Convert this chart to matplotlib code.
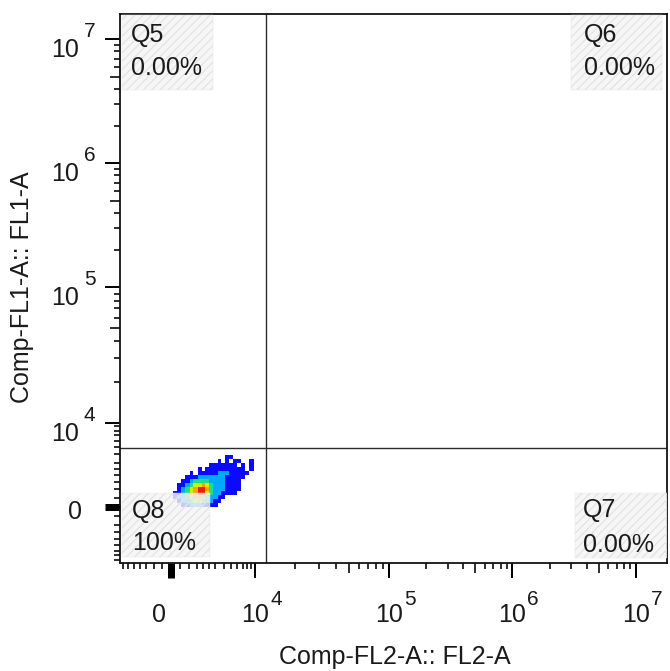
import numpy as np
import matplotlib
matplotlib.use("Agg")
import matplotlib.pyplot as plt
from matplotlib.colors import ListedColormap
from matplotlib.patches import Rectangle
from matplotlib.ticker import FixedLocator, NullFormatter

plt.rcParams["font.family"] = ["Liberation Sans", "DejaVu Sans"]

# --- data ---------------------------------------------------------------
# density of events (0 = empty, 1 = blue ... 6 = red), top row first
fl2_edges = [110, 330, 560, 790, 1040, 1290, 1570, 1860, 2170, 2510, 2880, 3290,
             3730, 4210, 4750, 5350, 6010, 6740, 7550, 8450, 9560, 10420, 11160]
fl1_edges = [0, 220, 450, 680, 910, 1160, 1430, 1710, 2010, 2340, 2690, 3070, 3490, 3940]
density_rows = [
    ".............11.......",
    "...........1.1.11..1..",
    ".........1111111.1.1..",
    "......1.1111111111.1..",
    "....1.1111122211111...",
    "...111222222211111....",
    "..112333322221111.....",
    ".1123445432221111.....",
    ".1234566532221111.....",
    "1123456643221111......",
    "1223455432211.........",
    ".12234432211..........",
    "..112221111...........",
]
level_colors = ["#0a0aff", "#00a8ff", "#22dd88", "#d2f000", "#ffa000", "#ee2000"]

gate_fl2 = 1.2e4
gate_fl1 = 4900
quad_names = ["Q5", "Q6", "Q7", "Q8"]
quad_pct = ["0.00%", "0.00%", "0.00%", "100%"]

major_ticks = [0, 1e4, 1e5, 1e6, 1e7]
major_exp = ["", "4", "5", "6", "7"]
minor_pos = [500, 1000, 1500, 2000, 2500, 3000, 4000, 5000, 6000, 7000, 8000, 9000]
minor_x_neg = [-500, -1000, -1500, -2000, -2500, -3000, -3500]
minor_y_neg = [-500, -1000, -1500, -2000, -2500, -3000, -3500, -4000]
medium_ticks = [5e4, 5e5, 5e6]
xlim = (-3900, 1.8e7)
ylim = (-4430, 1.6e7)

# --- biexponential-like display transform --------------------------------
C = 2000.0
DEC = np.array([0, 1e4, 1e5, 1e6, 1e7, 1e9])
POS = np.array([0, 0.68, 1.77, 2.77, 3.77, 5.77])
U = np.arcsinh(DEC / C)


def fwd(v):
    v = np.asarray(v, float)
    return np.sign(v) * np.interp(np.arcsinh(np.abs(v) / C), U, POS)


def inv(p):
    p = np.asarray(p, float)
    return np.sign(p) * C * np.sinh(np.interp(np.abs(p), POS, U))


fig = plt.figure(figsize=(6.7, 6.71), dpi=100)
ax = fig.add_axes([120 / 670, 1 - 563 / 671, 547 / 670, 549 / 671])
ax.set_xscale("function", functions=(fwd, inv))
ax.set_yscale("function", functions=(fwd, inv))

grid = np.array([[0 if ch == "." else int(ch) for ch in row] for row in density_rows[::-1]])
grid = np.ma.masked_equal(grid, 0)
ax.pcolormesh(fl2_edges, fl1_edges, grid, cmap=ListedColormap(level_colors),
              vmin=0.5, vmax=6.5, zorder=1)

ax.axvline(gate_fl2, color="#2b2b2b", lw=1.0, zorder=2)
ax.axhline(gate_fl1, color="#2b2b2b", lw=1.0, zorder=2)

ax.set_xlim(*xlim)
ax.set_ylim(*ylim)

# ticks
px = 0.72
ax.tick_params(which="major", direction="out", length=15 * px, width=2.0 * px, color="black")
ax.tick_params(which="minor", direction="out", length=6 * px, width=1.6 * px, color="black")
for axis, neg in ((ax.xaxis, minor_x_neg), (ax.yaxis, minor_y_neg)):
    minors = neg + minor_pos + [m * k for m in (1e4, 1e5, 1e6) for k in range(2, 10)]
    axis.set_major_locator(FixedLocator(major_ticks))
    axis.set_minor_locator(FixedLocator(minors))
    axis.set_major_formatter(NullFormatter())
    axis.set_minor_formatter(NullFormatter())
    for t, loc in zip(axis.get_minor_ticks(len(minors)), minors):
        if loc in medium_ticks:
            t.tick1line.set_markersize(10 * px)
    axis.get_major_ticks(len(major_ticks))[0].tick1line.set_markeredgewidth(7 * px)
for s in ax.spines.values():
    s.set_linewidth(1.8 * px)
    s.set_color("#111111")

txt = "#1a1a1a"
# tick labels: "10" with the exponent hanging to the right
for val, e in zip(major_ticks, major_exp):
    if e:
        ax.annotate("10", xy=(val, 0), xycoords=("data", "axes fraction"),
                    xytext=(0, -59), textcoords="offset pixels",
                    ha="center", va="baseline", fontsize=18, color=txt)
        ax.annotate(e, xy=(val, 0), xycoords=("data", "axes fraction"),
                    xytext=(15, -42), textcoords="offset pixels",
                    ha="left", va="baseline", fontsize=15, color=txt)
        ax.annotate("10", xy=(0, val), xycoords=("axes fraction", "data"),
                    xytext=(-41, -18), textcoords="offset pixels",
                    ha="right", va="baseline", fontsize=18, color=txt)
        ax.annotate(e, xy=(0, val), xycoords=("axes fraction", "data"),
                    xytext=(-36, 2), textcoords="offset pixels",
                    ha="left", va="baseline", fontsize=15, color=txt)
    else:
        ax.annotate("0", xy=(val, 0), xycoords=("data", "axes fraction"),
                    xytext=(-12, -59), textcoords="offset pixels",
                    ha="center", va="baseline", fontsize=18, color=txt)
        ax.annotate("0", xy=(0, val), xycoords=("axes fraction", "data"),
                    xytext=(-38, -12), textcoords="offset pixels",
                    ha="right", va="baseline", fontsize=18, color=txt)

ax.text(0.502, -0.184, "Comp-FL2-A:: FL2-A", transform=ax.transAxes,
        ha="center", va="baseline", fontsize=18, color=txt)
ax.text(-0.179, 0.503, "Comp-FL1-A:: FL1-A", transform=ax.transAxes, rotation=90,
        ha="center", va="center", fontsize=18, color=txt)

# quadrant labels: (box x, box y, box w, box h, text x, name baseline, pct baseline)
quad_layout = [
    (0.004, 0.862, 0.166, 0.137, 0.020, 0.949, 0.889),
    (0.825, 0.862, 0.166, 0.137, 0.848, 0.949, 0.889),
    (0.832, 0.009, 0.168, 0.118, 0.846, 0.084, 0.020),
    (0.004, 0.011, 0.161, 0.116, 0.022, 0.082, 0.024),
]
for (bx, by, bw, bh, tx, ny, py), name, pct in zip(quad_layout, quad_names, quad_pct):
    ax.add_patch(Rectangle((bx, by), bw, bh, transform=ax.transAxes,
                           facecolor=(0.955, 0.955, 0.955, 0.82), edgecolor="#e4e4e4",
                           lw=0.3, hatch="////", zorder=3))
    ax.text(tx, ny, name, transform=ax.transAxes, ha="left", va="baseline",
            fontsize=18, color=txt, zorder=4)
    ax.text(tx, py, pct, transform=ax.transAxes, ha="left", va="baseline",
            fontsize=18, color=txt, zorder=4)

fig.savefig("out.png", dpi=100)
